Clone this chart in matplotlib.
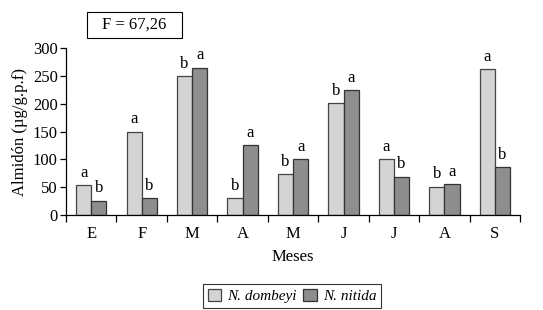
import numpy as np
import matplotlib.pyplot as plt
import matplotlib.ticker as ticker
from matplotlib.patches import Rectangle

plt.rcParams['font.family'] = ['Liberation Serif', 'DejaVu Serif']

meses = ['E', 'F', 'M', 'A', 'M', 'J', 'J', 'A', 'S']
dombeyi = [54, 150, 249, 31, 74, 201, 100, 51, 262]
nitida = [26, 31, 265, 125, 100, 224, 69, 55, 86]
letras_dombeyi = ['a', 'a', 'b', 'b', 'b', 'b', 'a', 'b', 'a']
letras_nitida = ['b', 'b', 'a', 'a', 'a', 'a', 'b', 'a', 'b']

fig = plt.figure(figsize=(5.43, 3.10), dpi=100)
ax = fig.add_axes([0.1215, 0.3065, 0.8365, 0.5385])

x = np.arange(len(meses))
w = 0.3
b1 = ax.bar(x - w/2, dombeyi, w, color='#d4d4d4', edgecolor='#444444', linewidth=0.9, label='N. dombeyi')
b2 = ax.bar(x + w/2, nitida, w, color='#8e8e8e', edgecolor='#333333', linewidth=0.9, label='N. nitida')

for xi, v, l in zip(x - w/2, dombeyi, letras_dombeyi):
	ax.annotate(l, (xi, v), xytext=(0, 3), textcoords='offset points', ha='center', va='bottom', fontsize=12)
for xi, v, l in zip(x + w/2, nitida, letras_nitida):
	ax.annotate(l, (xi, v), xytext=(0, 3), textcoords='offset points', ha='center', va='bottom', fontsize=12)

ax.set_xlim(-0.5, len(meses) - 0.5)
ax.set_ylim(0, 300)
ax.set_yticks([0, 50, 100, 150, 200, 250, 300])
ax.set_xticks(x)
ax.set_xticklabels(meses, fontsize=12)
ax.xaxis.set_minor_locator(ticker.FixedLocator(np.arange(-0.5, len(meses), 1)))
ax.tick_params(axis='x', which='major', length=0, pad=8)
ax.tick_params(axis='x', which='minor', length=5, width=0.9, direction='out')
ax.tick_params(axis='y', length=4, width=0.9, labelsize=12, pad=2)

for s in ['top', 'right']:
	ax.spines[s].set_visible(False)
for s in ['left', 'bottom']:
	ax.spines[s].set_linewidth(0.9)

ax.set_xlabel('Meses', fontsize=12, labelpad=5)
ax.set_ylabel('Almidón (µg/g.p.f)', fontsize=12, labelpad=3)

# caja del valor F
fig.add_artist(Rectangle((0.160, 0.877), 0.175, 0.084, transform=fig.transFigure,
	facecolor='white', edgecolor='black', linewidth=0.8))
fig.text(0.2477, 0.919, 'F = 67,26', ha='center', va='center', fontsize=12)

leg = fig.legend(handles=[b1, b2], loc='center', bbox_to_anchor=(0.538, 0.045), ncol=2,
	frameon=True, fancybox=False, edgecolor='black', handlelength=0.9, handleheight=0.9,
	handletextpad=0.4, columnspacing=0.4, borderpad=0.3, prop={'style': 'italic', 'size': 11})
leg.get_frame().set_linewidth(0.8)

fig.savefig('out.png', dpi=100)
